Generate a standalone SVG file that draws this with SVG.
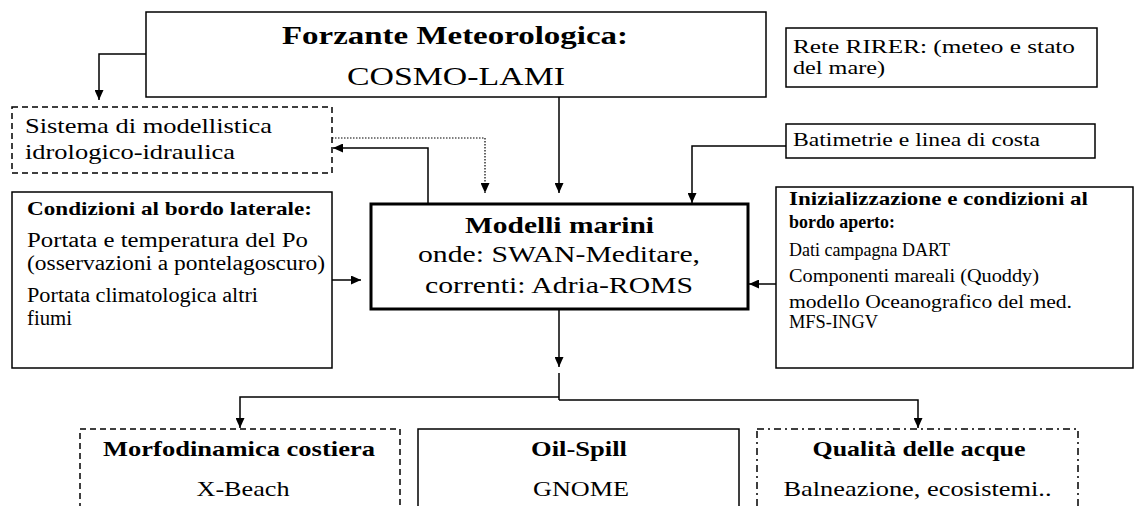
<svg xmlns="http://www.w3.org/2000/svg" width="1136" height="506" viewBox="0 0 1136 506">
  <style>
    .box { fill: #fff; stroke: #000; stroke-width: 1.5; }
    .thick { stroke-width: 3; }
    .dash { stroke-dasharray: 6 4; }
    .dashdot { stroke-dasharray: 7 4 2 4; }
    .t { font-family: "Liberation Serif", "Times New Roman", serif; fill: #000; }
    .b { font-weight: bold; }
    .c { text-anchor: middle; }
    .conn { fill: none; stroke: #000; stroke-width: 1.5; }
    .dot { stroke-dasharray: 1.5 1.5; stroke-width: 1.2; }
  </style>
  <defs>
    <marker id="ah" markerWidth="10" markerHeight="9" refX="10" refY="4.5" orient="auto" markerUnits="userSpaceOnUse">
      <path d="M0,0 L10,4.5 L0,9 z" fill="#000"/>
    </marker>
  </defs>
  <rect width="1136" height="506" fill="#fff"/>

  <!-- connectors -->
  <g id="connectors">
    <path class="conn" d="M146,54 H99 V100" marker-end="url(#ah)"/>
    <path class="conn dot" d="M332,138 H485 V193" marker-end="url(#ah)"/>
    <path class="conn" d="M428,204 V148 H333" marker-end="url(#ah)"/>
    <path class="conn" d="M559,97 V193" marker-end="url(#ah)"/>
    <path class="conn" d="M786,146 H692 V203" marker-end="url(#ah)"/>
    <path class="conn" d="M332,280 H361" marker-end="url(#ah)"/>
    <path class="conn" d="M776,284 H749" marker-end="url(#ah)"/>
    <path class="conn" d="M559,309 V367" marker-end="url(#ah)"/>
    <path class="conn" d="M559,373 V400"/>
    <path class="conn" d="M559,397 H240 V428" marker-end="url(#ah)"/>
    <path class="conn" d="M559,400 H918 V428" marker-end="url(#ah)"/>
  </g>

  <!-- forcing -->
  <g id="forzante">
    <rect class="box" x="146" y="12" width="620" height="85"/>
    <text class="t b c" x="455" y="44" font-size="26" textLength="346" lengthAdjust="spacingAndGlyphs">Forzante Meteorologica:</text>
    <text class="t c" x="456" y="85" font-size="26" textLength="218" lengthAdjust="spacingAndGlyphs">COSMO-LAMI</text>
  </g>

  <g id="rete">
    <rect class="box" x="786" y="28" width="311" height="59"/>
    <text class="t" x="793" y="53" font-size="19" textLength="282" lengthAdjust="spacingAndGlyphs">Rete RIRER: (meteo e stato</text>
    <text class="t" x="793" y="74" font-size="19" textLength="92" lengthAdjust="spacingAndGlyphs">del mare)</text>
  </g>

  <g id="sistema">
    <rect class="box dash" x="12" y="107" width="320" height="66"/>
    <text class="t" x="25" y="133" font-size="22" textLength="247" lengthAdjust="spacingAndGlyphs">Sistema di modellistica</text>
    <text class="t" x="25" y="159" font-size="22" textLength="210" lengthAdjust="spacingAndGlyphs">idrologico-idraulica</text>
  </g>

  <g id="batimetrie">
    <rect class="box" x="786" y="124" width="309" height="34"/>
    <text class="t" x="793" y="146" font-size="19" textLength="247" lengthAdjust="spacingAndGlyphs">Batimetrie e linea di costa</text>
  </g>

  <g id="condizioni">
    <rect class="box" x="12" y="192" width="320" height="176"/>
    <text class="t b" x="27" y="215" font-size="19" textLength="285" lengthAdjust="spacingAndGlyphs">Condizioni al bordo laterale:</text>
    <text class="t" x="27" y="247" font-size="20" textLength="281" lengthAdjust="spacingAndGlyphs">Portata e temperatura del Po</text>
    <text class="t" x="27" y="270" font-size="20" textLength="298" lengthAdjust="spacingAndGlyphs">(osservazioni a pontelagoscuro)</text>
    <text class="t" x="27" y="302" font-size="20" textLength="231" lengthAdjust="spacingAndGlyphs">Portata climatologica altri</text>
    <text class="t" x="27" y="325" font-size="20" textLength="45" lengthAdjust="spacingAndGlyphs">fiumi</text>
  </g>

  <g id="modelli">
    <rect class="box thick" x="371" y="204" width="377" height="105"/>
    <text class="t b c" x="559.5" y="233" font-size="24" textLength="189" lengthAdjust="spacingAndGlyphs">Modelli marini</text>
    <text class="t c" x="559" y="262" font-size="24" textLength="282" lengthAdjust="spacingAndGlyphs">onde: SWAN-Meditare,</text>
    <text class="t c" x="559" y="293" font-size="24" textLength="268" lengthAdjust="spacingAndGlyphs">correnti: Adria-ROMS</text>
  </g>

  <g id="inizializzazione">
    <rect class="box" x="776" y="187" width="357" height="181"/>
    <text class="t b" x="789" y="205" font-size="19" textLength="299" lengthAdjust="spacingAndGlyphs">Inizializzazione e condizioni al</text>
    <text class="t b" x="789" y="228" font-size="19" textLength="106" lengthAdjust="spacingAndGlyphs">bordo aperto:</text>
    <text class="t" x="789" y="256" font-size="19" textLength="161" lengthAdjust="spacingAndGlyphs">Dati campagna DART</text>
    <text class="t" x="789" y="282" font-size="19" textLength="250" lengthAdjust="spacingAndGlyphs">Componenti mareali (Quoddy)</text>
    <text class="t" x="789" y="308" font-size="19" textLength="283" lengthAdjust="spacingAndGlyphs">modello Oceanografico del med.</text>
    <text class="t" x="789" y="328" font-size="19" textLength="89" lengthAdjust="spacingAndGlyphs">MFS-INGV</text>
  </g>

  <g id="morfodinamica">
    <rect class="box dash" x="80" y="429" width="320" height="100"/>
    <text class="t b c" x="239" y="456" font-size="22" textLength="272" lengthAdjust="spacingAndGlyphs">Morfodinamica costiera</text>
    <text class="t c" x="243" y="496" font-size="22" textLength="93" lengthAdjust="spacingAndGlyphs">X-Beach</text>
  </g>

  <g id="oilspill">
    <rect class="box" x="418" y="429" width="321" height="100"/>
    <text class="t b c" x="579" y="456" font-size="22" textLength="96" lengthAdjust="spacingAndGlyphs">Oil-Spill</text>
    <text class="t c" x="581" y="496" font-size="22" textLength="96" lengthAdjust="spacingAndGlyphs">GNOME</text>
  </g>

  <g id="qualita">
    <rect class="box dashdot" x="757" y="429" width="321" height="100"/>
    <text class="t b c" x="919" y="456" font-size="22" textLength="213" lengthAdjust="spacingAndGlyphs">Qualità delle acque</text>
    <text class="t c" x="917.5" y="496" font-size="22" textLength="268" lengthAdjust="spacingAndGlyphs">Balneazione, ecosistemi..</text>
  </g>
</svg>
